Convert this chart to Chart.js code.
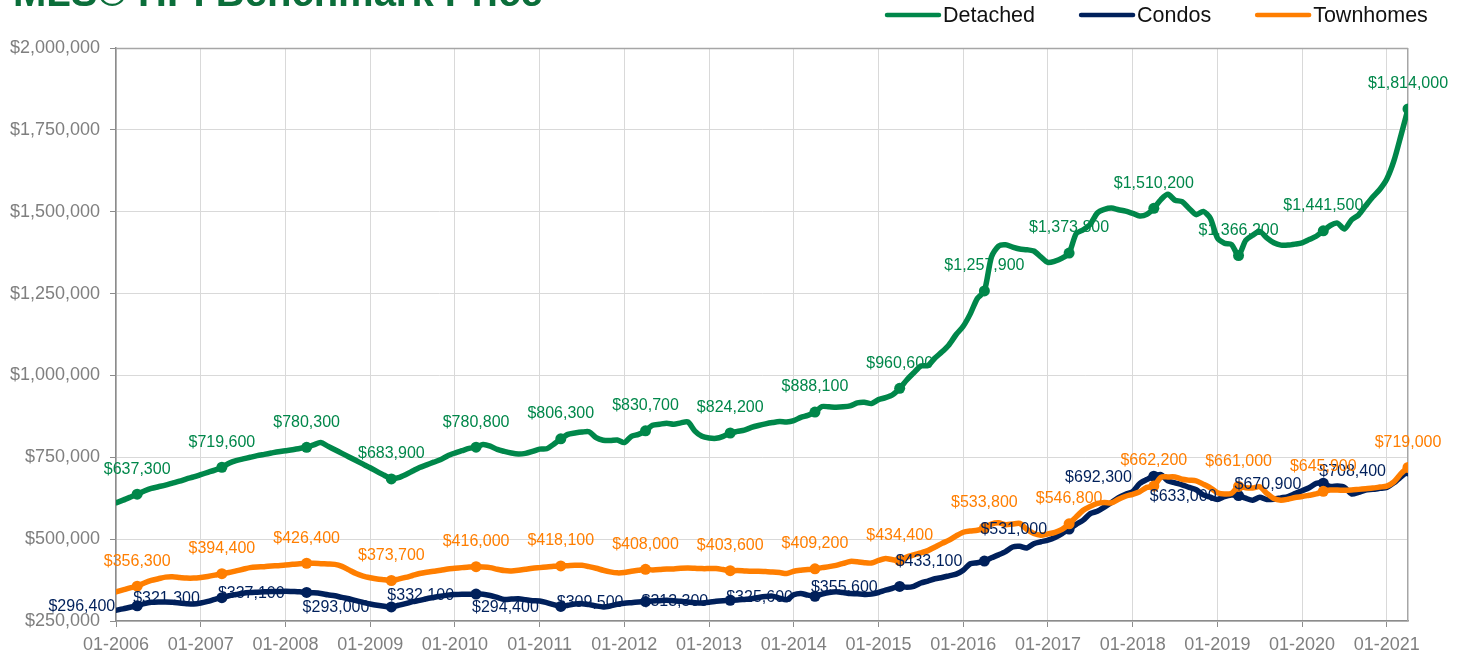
<!DOCTYPE html>
<html>
<head>
<meta charset="utf-8">
<script src="https://cdn.jsdelivr.net/npm/chart.js@4.4.1/dist/chart.umd.min.js"></script>
<style>
html,body{margin:0;padding:0;background:#fff;overflow:hidden}
#wrap{width:1464px;height:658px;position:relative}
</style>
</head>
<body>
<div id="wrap"><canvas id="c" width="1464" height="658"></canvas></div>
<script>
// ---------- DATA (values in thousands of dollars, monthly 01-2006 .. 04-2021) ----------
const chartTitle = 'MLS® HPI Benchmark Price';
const seriesNames = ['Detached', 'Condos', 'Townhomes'];
const xTickLabels = ['01-2006','01-2007','01-2008','01-2009','01-2010','01-2011','01-2012','01-2013',
                     '01-2014','01-2015','01-2016','01-2017','01-2018','01-2019','01-2020','01-2021'];
const yTickValues = [250, 500, 750, 1000, 1250, 1500, 1750, 2000];

const detached = [
  611, 619, 628, 637.3, 647, 655, 660, 665, 671, 677, 684, 690,
  697, 704, 711, 719.6, 732, 740, 745, 750, 755, 759, 763, 767,
  770, 773, 777, 780.3, 788, 795, 784, 773, 762, 751, 740, 729,
  718, 706, 695, 683.9, 688, 697, 708, 719, 727, 735, 743, 755,
  763, 770, 777, 780.8, 789, 784, 774, 768, 763, 760, 762, 768,
  775, 776, 790, 806.3, 820, 824, 827, 828, 810, 802, 801, 803,
  795, 814, 820, 830.7, 848, 851, 854, 851, 855, 858, 830, 814,
  809, 808, 814, 824.2, 829, 833, 841, 847, 852, 856, 859, 858,
  862, 872, 878, 888.1, 905, 904, 903, 904, 907, 916, 918, 914,
  926, 932, 941, 960.6, 986, 1008, 1029, 1030, 1053, 1072, 1094, 1125,
  1150, 1188, 1235, 1257.9, 1362, 1395, 1399, 1392, 1386, 1384, 1380, 1362,
  1345, 1349, 1358, 1373.8, 1433, 1445, 1462, 1496, 1507, 1511, 1506, 1502,
  1495, 1487, 1492, 1510.2, 1537, 1553, 1535, 1531, 1510, 1491, 1501, 1480,
  1420, 1404, 1400, 1366.2, 1412, 1428, 1440, 1420, 1405, 1398, 1398, 1401,
  1405, 1415, 1425, 1441.5, 1458, 1465, 1447, 1475, 1490, 1518, 1545, 1568,
  1600, 1655, 1733, 1814
];

const condos = [
  283, 287, 292, 296.4, 303, 307, 308, 308, 307, 305, 303, 302,
  305, 310, 316, 321.3, 327, 331, 335, 337, 338, 339, 340, 340,
  341, 340, 339, 337.1, 336, 334, 330, 327, 322, 318, 312, 307,
  302, 298, 295, 293.0, 298, 303, 309, 313, 318, 322, 326, 329,
  331, 332, 332, 332.1, 332, 328, 322, 316, 317, 318, 315, 312,
  311, 306, 300, 294.4, 298, 302, 303, 300, 296, 293, 296, 301,
  304, 306, 308, 309.5, 311, 312, 313, 312, 310, 308, 306, 305,
  307, 310, 312, 313.3, 314, 316, 318, 322, 325, 326, 320, 315,
  330, 334, 329, 325.6, 332, 337, 339, 337, 334, 333, 331, 332,
  337, 344, 350, 355.6, 353, 356, 366, 372, 379, 383, 388, 393,
  405, 425, 428, 433.1, 443, 452, 462, 476, 478, 473, 486, 492,
  497, 505, 517, 531.0, 545, 558, 578, 585, 598, 612, 627, 637,
  645, 670, 682, 692.3, 697, 678, 672, 666, 658, 651, 635, 628,
  621, 630, 635, 633.0, 625, 619, 628, 621, 622, 626, 630, 639,
  648, 657, 670, 670.9, 661, 662, 658, 638, 643, 650, 652, 655,
  658, 672, 690, 708.4
];

const townhomes = [
  339, 345, 351, 356.3, 366, 374, 379, 384, 385, 383, 381, 381,
  383, 386, 390, 394.4, 398, 403, 408, 413, 415, 416, 418, 419,
  421, 423, 425, 426.4, 426, 425, 424, 423, 417, 406, 395, 387,
  382, 378, 376, 373.7, 378, 383, 389, 395, 399, 402, 405, 409,
  411, 413, 415, 416.0, 415, 413, 408, 404, 403, 405, 408, 411,
  413, 415, 417, 418.1, 419, 420, 420, 416, 411, 405, 400, 397,
  398, 402, 405, 408.0, 406, 407, 409, 409, 411, 412, 411, 410,
  410, 410, 407, 403.6, 404, 403, 402, 402, 401, 400, 398, 395,
  402, 405, 407, 409.2, 413, 416, 420, 426, 432, 431, 428, 427,
  435, 441, 437, 434.4, 445, 452, 458, 465, 476, 487, 497, 510,
  521, 525, 527, 533.8, 546, 550, 544, 546, 548, 530, 517, 512,
  516, 521, 530, 546.8, 568, 588, 600, 609, 612, 611, 622, 631,
  637, 645, 658, 662.2, 689, 690, 690, 683, 680, 678, 668, 657,
  642, 638, 640, 661.0, 657, 656, 660, 640, 624, 619, 622, 627,
  630, 634, 638, 645.9, 650, 650, 649, 650, 652, 654, 656, 659,
  662, 675, 700, 719.0
];

// ---------- STYLE ----------
const colors = ['#00874A', '#00205B', '#FF7E00'];
const FONT = '"Liberation Sans", Arial, Helvetica, sans-serif';
const GRID = '#d9d9d9';
const AXIS = '#8c8c8c';
const TICKTXT = '#7f7f7f';
const labelPlacement = ['above', 'left', 'above'];
const isLabelled = i => i % 12 === 3;

const fmtMoney = v => '$' + Math.round(v * 1000).toLocaleString('en-US');

const seriesData = [detached, condos, townhomes];

const datasets = seriesData.map((arr, k) => ({
  label: seriesNames[k],
  data: arr.map((v, i) => ({ x: i, y: v })),
  borderColor: colors[k],
  backgroundColor: colors[k],
  borderWidth: 5.5,
  borderJoinStyle: 'round',
  borderCapStyle: 'round',
  tension: 0.25,
  pointRadius: ctx => isLabelled(ctx.dataIndex) ? 5.5 : 0,
  pointHoverRadius: 0,
  pointBorderWidth: 0,
  pointBackgroundColor: colors[k],
  fill: false,
  order: [2, 1, 0][k]
}));

const bgPlugin = {
  id: 'bg',
  beforeDraw(chart) {
    const c = chart.ctx;
    c.save(); c.fillStyle = '#fff'; c.fillRect(0, 0, chart.width, chart.height); c.restore();
  }
};

const framePlugin = {
  id: 'frame',
  beforeDatasetsDraw(chart) {
    const a = chart.chartArea, c = chart.ctx;
    c.save();
    c.strokeStyle = '#a6a6a6';
    c.lineWidth = 1.5;
    c.beginPath();
    c.moveTo(a.left, a.top + 0.5); c.lineTo(a.right, a.top + 0.5);
    c.moveTo(a.right - 0.25, a.top); c.lineTo(a.right - 0.25, a.bottom);
    c.stroke();
    c.restore();
  }
};

const labelPlugin = {
  id: 'pointLabels',
  afterDatasetsDraw(chart) {
    const c = chart.ctx;
    c.save();
    c.font = '16px ' + FONT;
    chart.data.datasets.forEach((ds, di) => {
      const meta = chart.getDatasetMeta(di);
      c.fillStyle = colors[di];
      meta.data.forEach((pt, i) => {
        if (!isLabelled(i)) return;
        const txt = fmtMoney(ds.data[i].y);
        if (labelPlacement[di] === 'left') {
          c.textAlign = 'right'; c.textBaseline = 'middle';
          c.fillText(txt, pt.x - 22, pt.y + 1);
        } else {
          c.textAlign = 'center'; c.textBaseline = 'middle';
          c.fillText(txt, pt.x, pt.y - 25);
        }
      });
    });
    c.restore();
  }
};

const titleLegendPlugin = {
  id: 'titleLegend',
  afterDraw(chart) {
    const c = chart.ctx;
    c.save();
    // title (partially cut off at the top, as in the reference)
    c.font = 'bold 40px ' + FONT;
    c.fillStyle = '#0B6E3A';
    c.textAlign = 'left'; c.textBaseline = 'alphabetic';
    c.fillText(chartTitle, 13, 6);
    // legend
    c.font = '21.5px ' + FONT;
    c.textBaseline = 'middle';
    let x = 885;
    const y = 15;
    chart.data.datasets.forEach((ds, di) => {
      c.strokeStyle = colors[di];
      c.lineWidth = 4.5;
      c.lineCap = 'round';
      c.beginPath(); c.moveTo(x + 2, y); c.lineTo(x + 54, y); c.stroke();
      c.fillStyle = '#111';
      c.fillText(ds.label, x + 58, y + 1);
      x += 58 + c.measureText(ds.label).width + 44;
    });
    c.restore();
  }
};

new Chart(document.getElementById('c'), {
  type: 'line',
  data: { datasets },
  options: {
    responsive: false,
    animation: false,
    devicePixelRatio: 1,
    layout: { padding: { left: 0, top: 48, right: 56, bottom: 0 } },
    plugins: { legend: { display: false }, title: { display: false }, tooltip: { enabled: false } },
    scales: {
      x: {
        type: 'linear',
        min: 0,
        max: detached.length - 1,
        afterBuildTicks: s => { s.ticks = xTickLabels.map((_, k) => ({ value: k * 12 })); },
        afterFit: s => { s.height = 37; },
        ticks: {
          autoSkip: false, maxRotation: 0,
          callback: v => xTickLabels[Math.round(v / 12)],
          font: { family: FONT, size: 18 }, color: TICKTXT, padding: 7
        },
        grid: { color: GRID, lineWidth: 1, tickColor: AXIS, tickLength: 6, drawTicks: true },
        border: { color: AXIS, width: 1.5 }
      },
      y: {
        type: 'linear',
        min: yTickValues[0],
        max: yTickValues[yTickValues.length - 1],
        afterBuildTicks: s => { s.ticks = yTickValues.map(v => ({ value: v })); },
        afterFit: s => { s.width = 116; },
        ticks: {
          callback: v => fmtMoney(v),
          font: { family: FONT, size: 18 }, color: TICKTXT, padding: 10
        },
        grid: { color: GRID, lineWidth: 1, tickColor: AXIS, tickLength: 6, drawTicks: true },
        border: { color: AXIS, width: 1.5 }
      }
    }
  },
  plugins: [bgPlugin, framePlugin, labelPlugin, titleLegendPlugin]
});
</script>
</body>
</html>
